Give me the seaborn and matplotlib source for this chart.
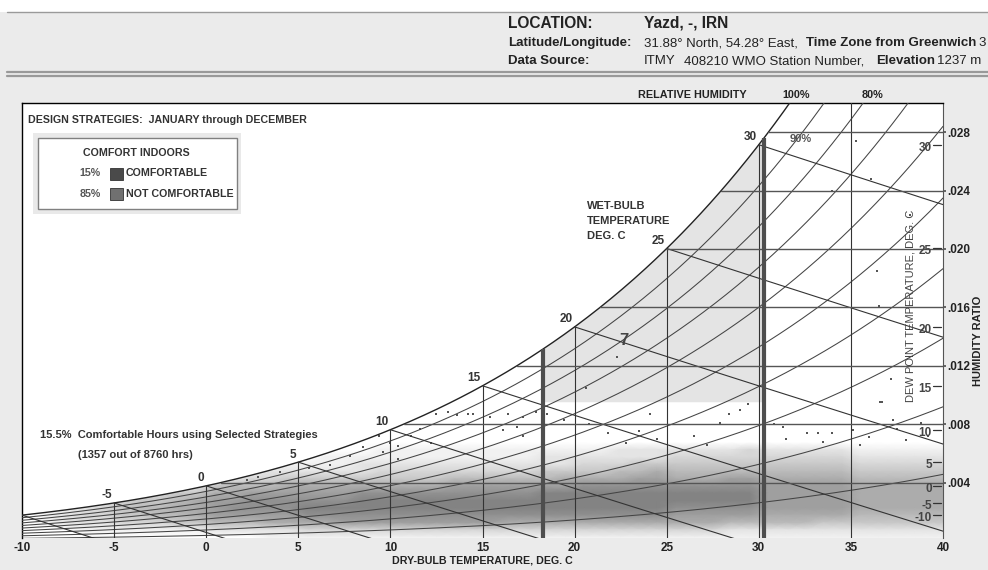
import numpy as np
import matplotlib
matplotlib.use("Agg")
import matplotlib.pyplot as plt
from matplotlib.colors import LinearSegmentedColormap
from matplotlib.patches import Rectangle, Polygon
from matplotlib.lines import Line2D
import seaborn as sns

# ---------------------------
# Chart data
# ---------------------------
db_ticks = [-10, -5, 0, 5, 10, 15, 20, 25, 30, 35, 40]
db_lines = [-5, 0, 5, 10, 15, 20, 25, 30, 35]
sat_labels = [-5, 0, 5, 10, 15, 20, 25, 30]
wet_bulb = [-10, -5, 0, 5, 10, 15, 20, 25, 30]
rh_curves = [0.1, 0.2, 0.3, 0.4, 0.5, 0.6, 0.7, 0.8, 0.9, 1.0]
w_grid = [0.004, 0.008, 0.012, 0.016, 0.020, 0.024, 0.028]
w_labels = [".004", ".008", ".012", ".016", ".020", ".024", ".028"]
dew_points = [-10, -5, 0, 5, 10, 15, 20, 25, 30]
comfort_bounds = [18.3, 30.3]
zone7_floor = 0.0095

# hourly data density, 1 deg C x 0.0005 cells, dry bulb -10..40
# rows from humid (W=0.00625) down to dry (W=0.00025), digit = density level
density_t = [-9.5 + i for i in range(50)]
density_w = [0.00625, 0.00575, 0.00525, 0.00475, 0.00425, 0.00375, 0.00325,
             0.00275, 0.00225, 0.00175, 0.00125, 0.00075, 0.00025]
density_rows = [
    "00000" "00000" "00000" "00001" "11111" "11111" "11222" "22223" "22222" "11111",
    "00000" "00000" "00000" "01111" "11111" "11122" "22222" "33333" "33333" "22222",
    "00000" "00000" "00001" "11122" "22222" "22222" "33344" "44444" "44444" "33333",
    "00000" "00000" "11122" "22223" "33333" "33344" "44556" "55555" "55555" "44444",
    "00000" "00001" "22334" "44444" "44455" "55556" "66677" "66677" "66666" "55555",
    "00000" "01112" "45556" "66666" "66677" "77777" "88888" "88888" "77777" "66666",
    "00001" "23344" "66777" "77788" "88888" "88899" "99999" "99999" "77777" "66666",
    "00012" "34456" "77888" "88899" "99999" "99999" "99999" "99999" "77777" "66666",
    "00123" "45566" "78888" "99999" "99999" "99999" "99999" "88888" "77777" "66666",
    "01233" "44556" "77777" "88888" "88888" "88888" "88888" "77777" "66666" "55555",
    "01222" "33344" "55566" "66777" "77777" "76666" "66666" "66655" "55544" "44444",
    "00011" "11111" "22222" "33333" "33333" "33333" "33333" "33322" "22222" "22222",
    "00000" "00000" "00011" "11111" "11111" "11111" "11111" "11111" "11111" "11111",
]

# isolated hours outside the dense band
sparse_t = [12.5, 13.1, 13.6, 14.2, 14.5, 15.4, 16.4, 17.2, 17.9, 18.5, 22.3, 20.6,
            24.1, 35.3, 36.1, 36.4, 36.5, 37.2, 36.6, 37.3, 38.8, 38.2, 34.0,
            29.4, 28.4, 29.0, 27.9, 36.7, 31.3, 33.2, 34.0, 32.6, 35.1,
            11.6, 12.2, 10.4, 11.1, 16.1, 16.9, 17.2, 20.8, 21.8, 19.4, 22.8,
            9.4, 10.0, 8.5, 7.8, 6.7, 5.6, 2.8, 2.2, 4.0, 9.6, 10.4,
            31.5, 33.5, 36.0, 38.0, 30.8, 26.5, 27.2, 24.5, 23.5, 37.5, 39.2, 35.5]
sparse_w = [0.0087, 0.0088, 0.0086, 0.0087, 0.0087, 0.0085, 0.0087, 0.0085, 0.0088, 0.0087,
            0.0126, 0.0105, 0.0087, 0.0274, 0.0248, 0.0185, 0.0161, 0.0111, 0.0095,
            0.0083, 0.0081, 0.0223, 0.0240, 0.0094, 0.0087, 0.0090, 0.0081, 0.0095,
            0.0078, 0.0074, 0.0074, 0.0074, 0.0076, 0.0077, 0.0067, 0.0065, 0.0072,
            0.0076, 0.0078, 0.0072, 0.0080, 0.0074, 0.0083, 0.0067, 0.0072, 0.0067,
            0.0064, 0.0058, 0.0052, 0.0050, 0.0044, 0.0042, 0.0047, 0.0061, 0.0056,
            0.0070, 0.0068, 0.0071, 0.0069, 0.0080, 0.0072, 0.0066, 0.0070, 0.0075,
            0.0077, 0.0072, 0.0066]

# ---------------------------
# Psychrometric helpers (sea level)
# ---------------------------
P_ATM = 101.325

def p_ws(t):
    return 0.61094 * np.exp(17.625 * t / (t + 243.04))

def w_sat(t, rh=1.0):
    pw = rh * p_ws(t)
    return 0.622 * pw / (P_ATM - pw)

def enthalpy(t, w):
    return 1.006 * t + w * (2501 + 1.86 * t)

def px(x, y):
    return x / 988, 1 - y / 570

# ---------------------------
# Figure
# ---------------------------
sns.set_theme(style="white")
plt.rcParams["font.family"] = ["Liberation Sans", "DejaVu Sans"]
TXT = "#333333"

fig = plt.figure(figsize=(9.88, 5.70), dpi=100, facecolor="#ebebeb")
ax = fig.add_axes([22 / 988, 32 / 570, 921 / 988, 435 / 570])
ax.set_facecolor("white")
ax.set_xlim(-10, 40)
ax.set_ylim(0.0002, 0.0300)

# header band
fig.add_artist(Rectangle(px(0, 12), 1, 12 / 570, transform=fig.transFigure,
                         facecolor="white", edgecolor="none"))
fig.add_artist(Line2D([7 / 988, 1], [px(0, 12)[1]] * 2, transform=fig.transFigure,
                      color="#9a9a9a", lw=1.0))
for yy in (71.5, 75.5):
    fig.add_artist(Line2D([7 / 988, 1], [px(0, yy)[1]] * 2, transform=fig.transFigure,
                          color="#999999", lw=1.6))

hdr = dict(fontsize=9.5, color="#222222", va="center")
big = dict(fontsize=11.2, fontweight="bold", color="#222222", va="center")
fig.text(*px(508, 23), "LOCATION:", **big)
fig.text(*px(644, 23), "Yazd, -, IRN", **big)
fig.text(*px(508, 43), "Latitude/Longitude:", fontweight="bold", **hdr)
fig.text(*px(644, 43), "31.88\u00b0 North, 54.28\u00b0 East,", **hdr)
fig.text(*px(806, 43), "Time Zone from Greenwich", fontweight="bold", **hdr)
fig.text(*px(978, 43), "3", **hdr)
fig.text(*px(508, 61), "Data Source:", fontweight="bold", **hdr)
fig.text(*px(644, 61), "ITMY", **hdr)
fig.text(*px(684, 61), "408210 WMO Station Number,", **hdr)
fig.text(*px(876, 61), "Elevation", fontweight="bold", **hdr)
fig.text(*px(937, 61), "1237 m", **hdr)

# region under the saturation curve
tt = np.linspace(-10, 40, 400)
ws = w_sat(tt)
sat_poly = Polygon(np.column_stack([np.r_[tt, 40, -10], np.r_[ws, 0, 0]]),
                   closed=True, transform=ax.transData, facecolor="none", edgecolor="none")
ax.add_patch(sat_poly)

# strategy 7 zone (light gray)
zt = np.linspace(comfort_bounds[0], comfort_bounds[1], 100)
zone = Polygon(np.column_stack([np.r_[zt, comfort_bounds[1], comfort_bounds[0]],
                                np.r_[w_sat(zt), zone7_floor, zone7_floor]]),
               closed=True, facecolor="#e4e4e4", edgecolor="none", zorder=1)
ax.add_patch(zone)

# hourly data density: pad so the shading reaches the chart edges and W = 0
dens = np.array([[int(c) for c in row] for row in density_rows], dtype=float)
dens = np.pad(dens, ((0, 1), (1, 1)), mode="edge")
dens = np.vstack([np.zeros((1, dens.shape[1])), dens])
grid_t = np.r_[-10.0, density_t, 40.0]
grid_w = np.r_[0.00675, density_w, 0.0]
cmap = LinearSegmentedColormap.from_list("dots", ["#ffffff", "#5a5a5a"])
X, Y = np.meshgrid(grid_t, grid_w)
mesh = ax.pcolormesh(X, Y, dens, cmap=cmap, vmin=0, vmax=12, shading="gouraud",
                     zorder=2, antialiased=False)
mesh.set_clip_path(sat_poly)

sns.scatterplot(x=sparse_t, y=sparse_w, marker="s", s=3.5, color="#555555",
                linewidth=0, ax=ax, zorder=2.5)

# relative humidity curves
for rh in rh_curves:
    ax.plot(tt, w_sat(tt, rh), color="#222222" if rh == 1.0 else "#444444",
            lw=1.0 if rh == 1.0 else 0.75, zorder=3)

# wet-bulb lines
for twb in wet_bulb:
    h0 = enthalpy(twb, w_sat(twb))
    t_line = np.linspace(twb, 40, 200)
    w_line = (h0 - 1.006 * t_line) / (2501 + 1.86 * t_line)
    keep = w_line >= 0
    ax.plot(t_line[keep], w_line[keep], color="#333333", lw=0.8, zorder=3)

# dry-bulb verticals
for t in db_lines:
    ax.plot([t, t], [0, min(w_sat(t), 0.031)], color="#333333", lw=0.8, zorder=3)

# humidity ratio lines
for w in w_grid:
    t0 = np.interp(w, ws, tt)
    ax.plot([t0, 40], [w, w], color="#555555", lw=1.0, zorder=3)

# comfort bounds (thick)
for t in comfort_bounds:
    ax.plot([t, t], [0, w_sat(t)], color="#4e4e4e", lw=3.0, zorder=4, solid_capstyle="butt")

# labels on saturation curve
for t in sat_labels:
    ax.text(t - 0.1, w_sat(t) + 0.0001, str(t), ha="right", va="bottom",
            fontsize=8.5, fontweight="bold", color=TXT, zorder=5)

# dew point scale inside right edge
for td in dew_points:
    w = w_sat(td)
    ax.plot([39.45, 39.9], [w, w], color="#333333", lw=0.9, zorder=5)
    ax.text(39.4, w - 0.0002, str(td), ha="right", va="center",
            fontsize=8.5, fontweight="bold", color="#444444", zorder=5)

ax.text(22.7, 0.01374, "7", ha="center", va="center", fontsize=12,
        fontweight="bold", color="#444444", zorder=5)

# axes styling
ax.set_xticks(db_ticks)
ax.set_xticklabels([str(t) for t in db_ticks], fontsize=8.5, fontweight="bold", color="#222222")
ax.tick_params(axis="x", length=0, pad=3)
ax.yaxis.tick_right()
ax.set_yticks(w_grid)
ax.set_yticklabels(w_labels, fontsize=8.5, fontweight="bold", color="#222222")
ax.tick_params(axis="y", length=2, pad=1, color="#555555")
ax.set_xlabel("DRY-BULB TEMPERATURE, DEG. C", fontsize=7.7, fontweight="bold",
              color="#222222", labelpad=1)
ax.set_ylabel("")
for side in ["top", "left"]:
    ax.spines[side].set_color("black")
    ax.spines[side].set_linewidth(1.0)
ax.spines["right"].set_color("#555555")
ax.spines["right"].set_linewidth(0.8)
ax.spines["bottom"].set_visible(False)

# annotations in the chart area
fig.text(*px(28, 120), "DESIGN STRATEGIES:  JANUARY through DECEMBER", fontsize=7.7,
         fontweight="bold", color=TXT, va="center")
fig.add_artist(Rectangle(px(33, 214), 208 / 988, 81 / 570, transform=fig.transFigure,
                         facecolor="#e9e9e9", edgecolor="none"))
fig.add_artist(Rectangle(px(38, 209), 199 / 988, 71 / 570, transform=fig.transFigure,
                         facecolor="white", edgecolor="#808080", lw=1.0))
fig.text(*px(83, 153), "COMFORT INDOORS", fontsize=7.7, fontweight="bold", color=TXT, va="center")
fig.text(*px(101, 173), "15%", fontsize=7.7, fontweight="bold", color="#555555", va="center", ha="right")
fig.text(*px(101, 194), "85%", fontsize=7.7, fontweight="bold", color="#555555", va="center", ha="right")
fig.add_artist(Rectangle(px(110, 180), 13 / 988, 12 / 570, transform=fig.transFigure,
                         facecolor="#4a4a4a", edgecolor="#333333", lw=0.6))
fig.add_artist(Rectangle(px(110, 200), 13 / 988, 12 / 570, transform=fig.transFigure,
                         facecolor="#707070", edgecolor="#333333", lw=0.6))
fig.text(*px(126, 173), "COMFORTABLE", fontsize=7.7, fontweight="bold", color=TXT, va="center")
fig.text(*px(126, 194), "NOT COMFORTABLE", fontsize=7.7, fontweight="bold", color=TXT, va="center")

fig.text(*px(40, 435), "15.5%  Comfortable Hours using Selected Strategies", fontsize=8,
         fontweight="bold", color=TXT, va="center")
fig.text(*px(78, 455), "(1357 out of 8760 hrs)", fontsize=8, fontweight="bold", color=TXT, va="center")

for i, line in enumerate(["WET-BULB", "TEMPERATURE", "DEG. C"]):
    fig.text(*px(587, 206 + 15 * i), line, fontsize=8, fontweight="bold", color=TXT, va="center")

fig.text(*px(638, 95), "RELATIVE HUMIDITY", fontsize=7.8, fontweight="bold", color="#222222", va="center")
fig.text(*px(782, 95), "100%", fontsize=7.8, fontweight="bold", color="#222222", va="center")
fig.text(*px(862, 95), "80%", fontsize=7.8, fontweight="bold", color="#222222", va="center")
fig.text(*px(790, 139), "90%", fontsize=8, fontweight="bold", color="#555555", va="center")

fig.text(*px(910, 306), "DEW POINT TEMPERATURE, DEG. C", fontsize=8, color="#444444",
         rotation=90, ha="center", va="center")
fig.text(*px(978, 341), "HUMIDITY RATIO", fontsize=8, fontweight="bold", color="#222222",
         rotation=90, ha="center", va="center")

fig.savefig("out.png", dpi=100, facecolor=fig.get_facecolor())
